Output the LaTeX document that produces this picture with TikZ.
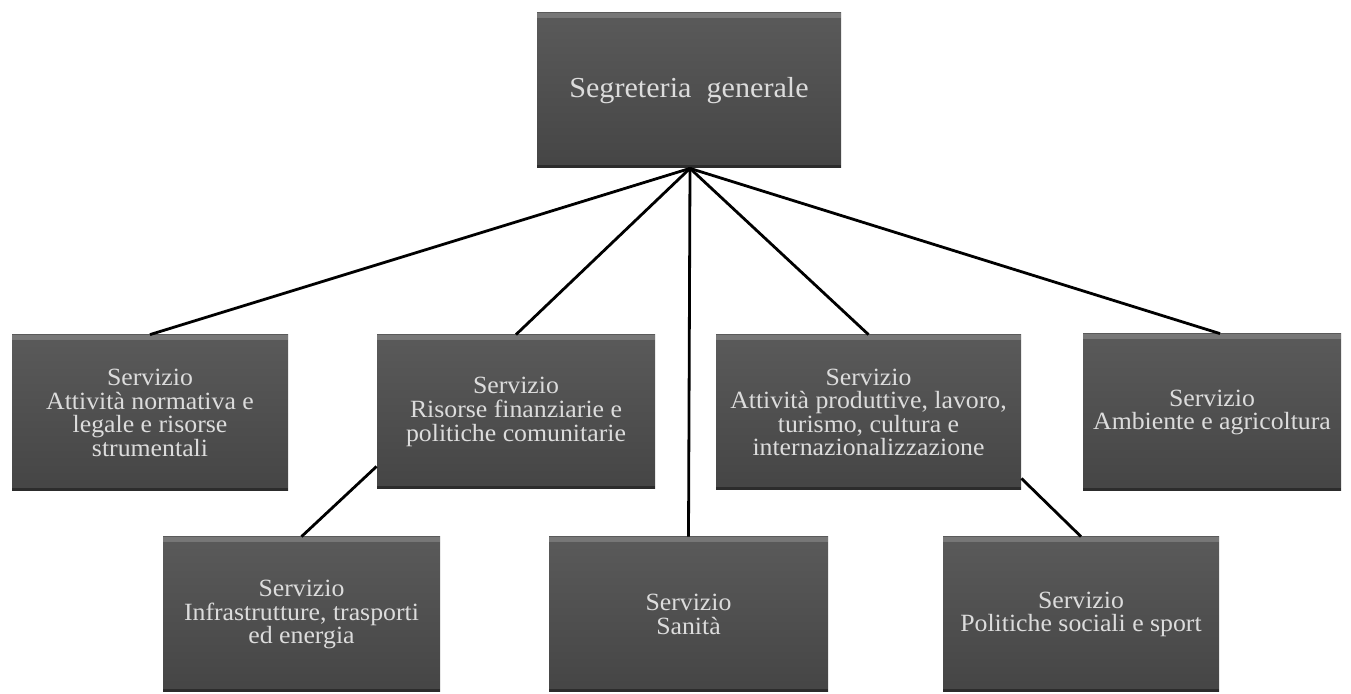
\documentclass[tikz,border=0pt]{standalone}
\usepackage{fontspec}
\setmainfont{Liberation Serif}[FakeStretch=1.04]
\definecolor{boxtop}{HTML}{5A5A5A}
\definecolor{boxbot}{HTML}{454545}
\definecolor{boxtext}{HTML}{DCDCDC}
\begin{document}
\begin{tikzpicture}[x=0.5pt,y=-0.5pt,
  orgbox/.style={rectangle, top color=boxtop, bottom color=boxbot, draw=none,
    text=boxtext, align=center, inner sep=0pt,
    font=\fontsize{12.4pt}{11.8pt}\selectfont,
    path picture={
      \fill[white,opacity=0.18] (path picture bounding box.north west) rectangle ([yshift=-2.5pt]path picture bounding box.north east);
      \fill[black,opacity=0.35] (path picture bounding box.south west) rectangle ([yshift=1.5pt]path picture bounding box.south east);
    }},
  link/.style={draw=black, line width=1.4pt}]
\useasboundingbox (0,0) rectangle (1351,694);
\fill[white] (0,0) rectangle (1351,694);
% top
\node[orgbox, minimum width=152pt, minimum height=77.5pt, font=\fontsize{14.5pt}{14pt}\selectfont] (T) at (689,90.5) {Segreteria\ \ generale};
% row 1
\node[orgbox, minimum width=138pt, minimum height=78pt] (A) at (150,413) {Servizio\\Attività normativa e\\legale e risorse\\strumentali};
\node[orgbox, minimum width=139pt, minimum height=77pt] (B) at (516,412) {Servizio\\Risorse finanziarie e\\politiche comunitarie};
\node[orgbox, minimum width=152.5pt, minimum height=77.5pt] (C) at (868.5,412.5) {Servizio\\Attività produttive, lavoro,\\turismo, cultura e\\internazionalizzazione};
\node[orgbox, minimum width=129pt, minimum height=78.5pt] (D) at (1212,412.5) {Servizio\\Ambiente e agricoltura};
% row 2
\node[orgbox, minimum width=138.5pt, minimum height=77.5pt] (E) at (301.5,614.5) {Servizio\\Infrastrutture, trasporti\\ed energia};
\node[orgbox, minimum width=139.5pt, minimum height=77.5pt] (F) at (688.5,614.5) {Servizio\\Sanità};
\node[orgbox, minimum width=138pt, minimum height=77.5pt] (G) at (1081,614.5) {Servizio\\Politiche sociali e sport};
% connectors
\coordinate (Tb) at ([xshift=0.5pt]T.south);
\draw[link] (Tb) -- (A.north);
\draw[link] (Tb) -- (B.north);
\draw[link] (Tb) -- (F.north);
\draw[link] (Tb) -- (C.north);
\draw[link] (Tb) -- ([xshift=4pt]D.north);
\coordinate (Bl) at ([yshift=11.5pt]B.south west);
\coordinate (Cr) at ([yshift=6pt]C.south east);
\draw[link] (Bl) -- (E.north);
\draw[link] (Cr) -- (G.north);
\end{tikzpicture}
\end{document}
